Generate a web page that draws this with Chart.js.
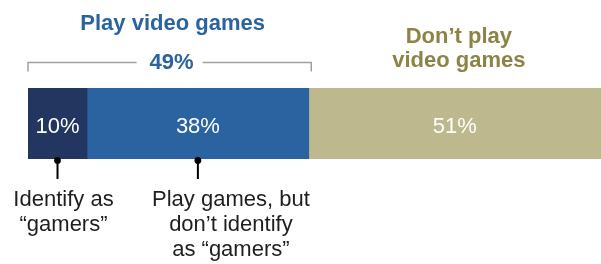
<!DOCTYPE html>
<html>
<head>
<meta charset="utf-8">
<script src="https://cdn.jsdelivr.net/npm/chart.js@4/dist/chart.umd.min.js"></script>
<style>
  html, body { margin: 0; padding: 0; background: #ffffff; }
  #wrap { width: 601px; height: 264px; position: relative; }
</style>
</head>
<body>
<div id="wrap"><canvas id="c" width="601" height="264"></canvas></div>
<script>
// ---- data ----
const categories = ['U.S. adults'];
const seriesNames = ['Identify as “gamers”', 'Play games, but don’t identify as “gamers”', 'Don’t play video games'];
const identifyAsGamers = [10.3];
const playNotGamers = [38.7];
const dontPlay = [51.0];
const valueLabels = ['10%', '38%', '51%'];
const groupTitle = 'Play video games';
const groupTotalLabel = '49%';
const otherTitle = ['Don’t play', 'video games'];
const annotations = [['Identify as', '“gamers”'], ['Play games, but', 'don’t identify', 'as “gamers”']];

const colors = ['#22365f', '#2a63a0', '#bdb88d'];
const FONT = '"Liberation Sans", Arial, sans-serif';

const overlay = {
  id: 'overlay',
  afterDatasetsDraw(chart) {
    const ctx = chart.ctx;
    const xs = chart.scales.x;
    const metas = [0, 1, 2].map(i => chart.getDatasetMeta(i).data[0]);
    ctx.save();
    // value labels inside bars
    ctx.fillStyle = '#ffffff';
    ctx.font = '22px ' + FONT;
    ctx.textAlign = 'center';
    ctx.textBaseline = 'alphabetic';
    metas.forEach((el, i) => {
      const cx = (el.x + el.base) / 2;
      ctx.fillText(valueLabels[i], cx, el.y + 9);
    });

    // bracket over the "play" group
    const left = xs.getPixelForValue(0);
    const right = xs.getPixelForValue(identifyAsGamers[0] + playNotGamers[0]) + 2.5;
    const mid = (left + right) / 2 + 2;
    const by = 62.5;
    ctx.strokeStyle = '#a0a0a0';
    ctx.lineWidth = 1.5;
    ctx.beginPath();
    ctx.moveTo(left, 71.5); ctx.lineTo(left, by); ctx.lineTo(mid - 35, by);
    ctx.moveTo(mid + 31, by); ctx.lineTo(right, by); ctx.lineTo(right, 71.5);
    ctx.stroke();

    ctx.font = 'bold 22px ' + FONT;
    ctx.fillStyle = '#2a63a0';
    ctx.fillText(groupTotalLabel, mid, 69);
    ctx.fillText(groupTitle, mid + 1, 30);

    // don't play title
    const tanMid = (metas[2].x + metas[2].base) / 2 + 4;
    ctx.fillStyle = '#8c8346';
    ctx.fillText(otherTitle[0], tanMid, 43);
    ctx.fillText(otherTitle[1], tanMid, 67);

    // pointers + annotations
    const barBottom = metas[0].y + metas[0].height / 2;
    const textOffsets = [6, 33];
    ctx.font = '22px ' + FONT;
    [0, 1].forEach(i => {
      const el = metas[i];
      const cx = (el.x + el.base) / 2;
      ctx.fillStyle = '#000000';
      ctx.strokeStyle = '#000000';
      ctx.lineWidth = 2;
      ctx.beginPath();
      ctx.moveTo(cx, barBottom + 1); ctx.lineTo(cx, barBottom + 20);
      ctx.stroke();
      ctx.beginPath();
      ctx.arc(cx, barBottom + 1.5, 3.4, 0, Math.PI * 2);
      ctx.fill();
      ctx.fillStyle = '#1e1e1e';
      annotations[i].forEach((line, k) => {
        ctx.fillText(line, cx + textOffsets[i], 206 + k * 25);
      });
    });
    ctx.restore();
  }
};

new Chart(document.getElementById('c'), {
  type: 'bar',
  data: {
    labels: categories,
    datasets: [
      { label: seriesNames[0], data: identifyAsGamers, backgroundColor: colors[0] },
      { label: seriesNames[1], data: playNotGamers, backgroundColor: colors[1] },
      { label: seriesNames[2], data: dontPlay, backgroundColor: colors[2] }
    ].map(d => Object.assign(d, { barPercentage: 1, categoryPercentage: 1, borderWidth: 0 }))
  },
  options: {
    indexAxis: 'y',
    responsive: false,
    devicePixelRatio: 1,
    animation: false,
    layout: { padding: { left: 28, right: 0, top: 88, bottom: 105 } },
    scales: {
      x: { stacked: true, min: 0, max: 100, display: false },
      y: { stacked: true, display: false }
    },
    plugins: { legend: { display: false }, tooltip: { enabled: false } }
  },
  plugins: [overlay]
});
</script>
</body>
</html>
